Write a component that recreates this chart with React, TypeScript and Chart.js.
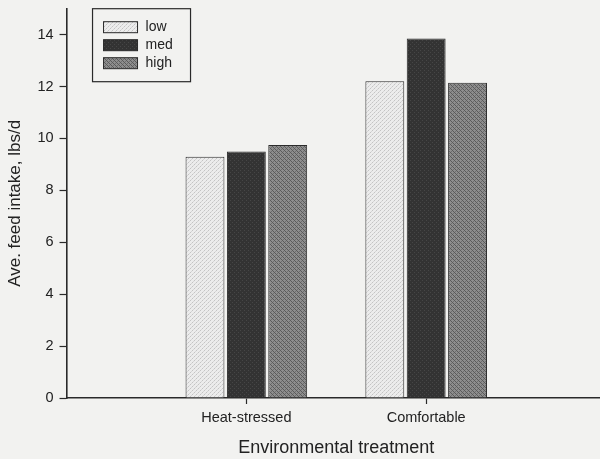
import React, { useEffect, useRef } from "react";
import { Chart, registerables } from "chart.js";

Chart.register(...registerables);

const categories = ["", "Heat-stressed", "Comfortable", ""];
const seriesNames = ["low", "med", "high"];
const lowValues = [null, 9.3, 12.2, null];
const medValues = [null, 9.5, 13.85, null];
const highValues = [null, 9.75, 12.15, null];
const yTicks = [0, 2, 4, 6, 8, 10, 12, 14];

function makePattern(kind: string): CanvasPattern | string {
  const c = document.createElement("canvas");
  c.width = 4;
  c.height = 4;
  const g = c.getContext("2d");
  if (!g) return "#888";
  if (kind === "low") {
    g.fillStyle = "#ececec";
    g.fillRect(0, 0, 4, 4);
    g.fillStyle = "#c4c4c4";
    g.fillRect(0, 0, 1, 1);
    g.fillRect(2, 2, 1, 1);
    g.fillStyle = "#d6d6d6";
    g.fillRect(1, 3, 1, 1);
    g.fillRect(3, 1, 1, 1);
  } else if (kind === "med") {
    g.fillStyle = "#333333";
    g.fillRect(0, 0, 4, 4);
    g.fillStyle = "#464646";
    g.fillRect(0, 0, 1, 1);
    g.fillRect(2, 2, 1, 1);
  } else {
    g.fillStyle = "#8e8e8e";
    g.fillRect(0, 0, 4, 4);
    g.fillStyle = "#5a5a5a";
    g.fillRect(0, 0, 1, 1);
    g.fillRect(1, 1, 1, 1);
    g.fillRect(2, 2, 1, 1);
    g.fillRect(3, 3, 1, 1);
    g.fillStyle = "#6e6e6e";
    g.fillRect(3, 1, 1, 1);
    g.fillRect(1, 3, 1, 1);
  }
  const p = g.createPattern(c, "repeat");
  return p || "#888";
}

const boxLegend = {
  id: "boxLegend",
  afterDraw(chart: any) {
    const ctx = chart.ctx;
    const area = chart.chartArea;
    const x0 = area.left + 26;
    const y0 = area.top;
    const w = 98;
    const h = 73;
    ctx.save();
    ctx.strokeStyle = "#2a2a2a";
    ctx.lineWidth = 1.2;
    ctx.fillStyle = "#f2f2f0";
    ctx.fillRect(x0, y0, w, h);
    ctx.strokeRect(x0, y0, w, h);
    ctx.font = "14px 'Liberation Sans', Arial, sans-serif";
    ctx.textBaseline = "middle";
    chart.data.datasets.forEach((ds: any, i: number) => {
      const cy = y0 + 18 + i * 18;
      ctx.fillStyle = ds.backgroundColor;
      ctx.fillRect(x0 + 11, cy - 5, 34, 11);
      ctx.strokeStyle = "#2a2a2a";
      ctx.lineWidth = 1;
      ctx.strokeRect(x0 + 11, cy - 5, 34, 11);
      ctx.fillStyle = "#222";
      ctx.fillText(ds.label, x0 + 53, cy);
    });
    ctx.restore();
  },
};

export default function App() {
  const ref = useRef<HTMLCanvasElement | null>(null);
  useEffect(() => {
    document.body.style.margin = "0";
    document.body.style.background = "#f2f2f0";
    const cv = ref.current;
    if (!cv) return;
    const font = "'Liberation Sans', Arial, sans-serif";
    const chart = new Chart(cv, {
      type: "bar",
      data: {
        labels: categories,
        datasets: [
          { label: seriesNames[0], data: lowValues as any, backgroundColor: makePattern("low") as any },
          { label: seriesNames[1], data: medValues as any, backgroundColor: makePattern("med") as any },
          { label: seriesNames[2], data: highValues as any, backgroundColor: makePattern("high") as any },
        ],
      },
      options: {
        responsive: false,
        animation: false,
        layout: { padding: { top: 0, right: 6, left: 4, bottom: 0 } },
        datasets: {
          bar: {
            borderColor: "#2a2a2a",
            borderWidth: 1,
            borderSkipped: "bottom",
            categoryPercentage: 0.69,
            barPercentage: 0.94,
          },
        },
        plugins: {
          legend: { display: false },
          tooltip: { enabled: false },
        },
        scales: {
          x: {
            offset: false,
            grid: {
              offset: false,
              drawOnChartArea: false,
              drawTicks: true,
              tickLength: 6,
              tickColor: (ctx: any) => (categories[ctx.index] ? "#2a2a2a" : "rgba(0,0,0,0)"),
              tickWidth: 1.2,
            },
            border: { color: "#2a2a2a", width: 1.6 },
            ticks: {
              color: "#222",
              font: { family: font, size: 14.5 },
              padding: 5,
              autoSkip: false,
              maxRotation: 0,
            },
            title: {
              display: true,
              text: "Environmental treatment",
              color: "#222",
              font: { family: font, size: 18 },
              padding: { top: 6, bottom: 0 },
            },
          },
          y: {
            min: 0,
            max: 15,
            afterBuildTicks: (scale: any) => {
              scale.ticks = yTicks.map((v) => ({ value: v }));
            },
            grid: {
              drawOnChartArea: false,
              tickLength: 7,
              tickColor: "#2a2a2a",
              tickWidth: 1.2,
            },
            border: { color: "#2a2a2a", width: 1.6 },
            ticks: {
              color: "#222",
              font: { family: font, size: 14.5 },
              padding: 6,
            },
            title: {
              display: true,
              text: "Ave. feed intake, lbs/d",
              color: "#222",
              font: { family: font, size: 17 },
              padding: { top: 1, bottom: 6 },
            },
          },
        },
      },
      plugins: [boxLegend],
    });
    return () => chart.destroy();
  }, []);
  return (
    <div style={{ position: "absolute", left: 0, top: 0, width: 600, height: 459, overflow: "hidden", background: "#f2f2f0" }}>
      <canvas ref={ref} width={612} height={465} style={{ display: "block", position: "absolute", left: 0, top: -6 }} />
    </div>
  );
}
